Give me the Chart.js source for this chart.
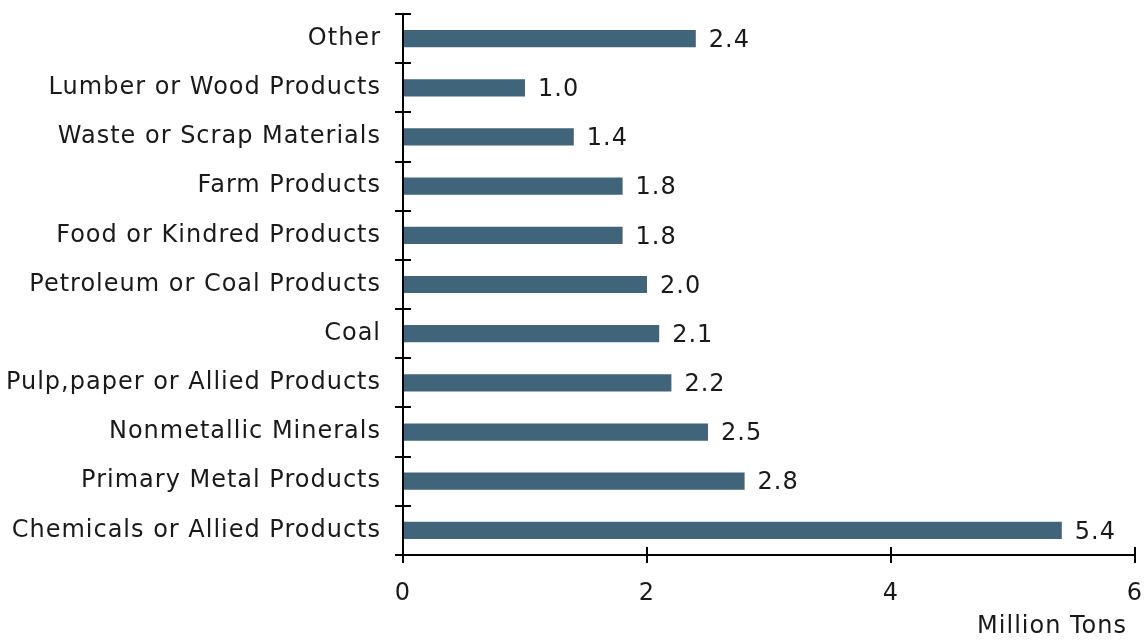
<!DOCTYPE html>
<html>
<head>
<meta charset="utf-8">
<script src="https://cdn.jsdelivr.net/npm/chart.js@4/dist/chart.umd.min.js"></script>
<style>
  html, body { margin: 0; padding: 0; background: #fff; }
  #wrap { width: 1144px; height: 640px; position: relative; }
</style>
</head>
<body>
<div id="wrap"><canvas id="c" width="1144" height="640"></canvas></div>
<script>
// Commodity groups, listed top to bottom
const categories = [
  "Other",
  "Lumber or Wood Products",
  "Waste or Scrap Materials",
  "Farm Products",
  "Food or Kindred Products",
  "Petroleum or Coal Products",
  "Coal",
  "Pulp,paper or Allied Products",
  "Nonmetallic Minerals",
  "Primary Metal Products",
  "Chemicals or Allied Products"
];
// Tonnage in millions
const tonnage = [2.4, 1.0, 1.4, 1.8, 1.8, 2.0, 2.1, 2.2, 2.5, 2.8, 5.4];
const xTicks = [0, 2, 4, 6];
const axisTitle = "Million Tons";

const FONT = "'DejaVu Sans', sans-serif";
const FONT_SIZE = 24;
const INK = "#1a1a1a";

// Slightly wider letter spacing for every piece of chart text
const textSpacing = {
  id: "textSpacing",
  beforeDraw(chart) { chart.ctx.letterSpacing = "1px"; }
};

// Short tick marks on the inner side of both axes, plus the axis title
const innerTicks = {
  id: "innerTicks",
  afterDraw(chart) {
    const ctx = chart.ctx;
    const y = chart.scales.y, x = chart.scales.x;
    ctx.save();
    ctx.strokeStyle = "#000";
    ctx.lineWidth = 2;
    ctx.beginPath();
    const n = categories.length;
    for (let i = 0; i <= n; i++) {
      const py = Math.round(y.getPixelForValue(i - 0.5));
      ctx.moveTo(x.left, py);
      ctx.lineTo(x.left + 8, py);
    }
    xTicks.forEach(v => {
      if (v === 0) return;
      const px = Math.round(x.getPixelForValue(v));
      ctx.moveTo(px, y.bottom);
      ctx.lineTo(px, y.bottom - 8);
    });
    ctx.stroke();

    ctx.font = FONT_SIZE + "px " + FONT;
    ctx.fillStyle = INK;
    ctx.textAlign = "right";
    ctx.textBaseline = "middle";
    ctx.fillText(axisTitle, x.right - 8, 627);
    ctx.restore();
  }
};

// Value printed just past the end of each bar
const valueLabels = {
  id: "valueLabels",
  afterDatasetsDraw(chart) {
    const ctx = chart.ctx;
    const meta = chart.getDatasetMeta(0);
    ctx.save();
    ctx.font = FONT_SIZE + "px " + FONT;
    ctx.fillStyle = INK;
    ctx.textAlign = "left";
    ctx.textBaseline = "middle";
    meta.data.forEach((bar, i) => {
      ctx.fillText(tonnage[i].toFixed(1), bar.x + 13, bar.y + 2);
    });
    ctx.restore();
  }
};

new Chart(document.getElementById("c"), {
  type: "bar",
  data: {
    labels: categories,
    datasets: [{
      data: tonnage,
      backgroundColor: "#40647A",
      borderWidth: 0,
      barPercentage: 0.35,
      categoryPercentage: 1.0
    }]
  },
  options: {
    indexAxis: "y",
    responsive: false,
    animation: false,
    devicePixelRatio: 1,
    layout: { padding: { top: 14, right: 9, left: 0, bottom: 0 } },
    plugins: { legend: { display: false }, tooltip: { enabled: false } },
    scales: {
      y: {
        afterFit(s) { s.width = 403; s.paddingTop = 0; s.paddingBottom = 0; },
        grid: { drawOnChartArea: false, color: "#000", lineWidth: 2, tickLength: 8, offset: true },
        border: { display: true, color: "#000", width: 2 },
        ticks: { color: INK, font: { family: FONT, size: FONT_SIZE }, padding: 14 }
      },
      x: {
        min: 0, max: 6,
        afterFit(s) { s.height = 85; s.paddingLeft = 0; s.paddingRight = 0; },
        afterBuildTicks(s) { s.ticks = xTicks.map(v => ({ value: v })); },
        grid: { drawOnChartArea: false, color: "#000", lineWidth: 2, tickLength: 8 },
        border: { display: true, color: "#000", width: 2 },
        ticks: { color: INK, font: { family: FONT, size: FONT_SIZE }, padding: 16 }
      }
    }
  },
  plugins: [textSpacing, innerTicks, valueLabels]
});
</script>
</body>
</html>
